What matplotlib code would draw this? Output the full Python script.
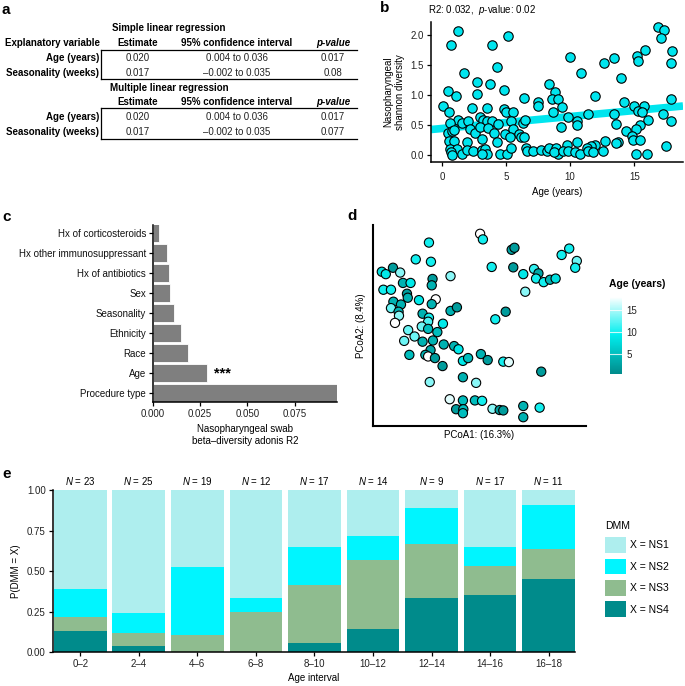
import matplotlib
matplotlib.use('Agg')
import matplotlib.pyplot as plt
import numpy as np
from matplotlib.colors import LinearSegmentedColormap, Normalize
from matplotlib.cm import ScalarMappable
from matplotlib.lines import Line2D
from matplotlib.patches import Patch

plt.rcParams['font.family'] = ['Liberation Sans', 'DejaVu Sans']
plt.rcParams['mathtext.fontset'] = 'custom'
plt.rcParams['mathtext.rm'] = 'Liberation Sans'
plt.rcParams['mathtext.it'] = 'Liberation Sans:italic'
plt.rcParams['font.size'] = 7
plt.rcParams['axes.linewidth'] = 1.1

# ---------------- data ----------------
# a: regression table
tbl_cols = ['Estimate', '95% confidence interval', 'p-value']
tbl_rows = ['Age (years)', 'Seasonality (weeks)']
simple_est = ['0.020', '0.017']
simple_ci = ['0.004 to 0.036', '\u20130.002 to 0.035']
simple_p = ['0.017', '0.08']
multi_est = ['0.020', '0.017']
multi_ci = ['0.004 to 0.036', '\u20130.002 to 0.035']
multi_p = ['0.017', '0.077']

# b: age vs shannon diversity
ages_b = [1.22, 0.73, 3.93, 5.18, 4.27, 1.72, 2.73, 3.75, 0.49, 1.09, 2.71, 4.87, 6.41, 8.36, 8.85, 8.62,
          0.05, 0.57, 2.32, 3.52, 4.84, 5.03, 5.57, 7.53, 7.53, 8.70,
          1.22, 1.59, 2.00, 0.63, 2.97, 3.23, 3.49, 3.91, 4.40, 5.39, 6.35, 6.48,
          0.49, 0.76, 0.94, 2.19, 2.58, 2.97, 3.62, 4.06, 4.90, 5.52, 6.04, 6.20,
          0.55, 0.94, 1.93, 3.10, 4.27, 5.31, 6.41,
          0.63, 1.15, 0.68, 1.54, 1.93, 2.40, 3.10, 3.36, 3.49, 3.10, 4.53, 5.05, 5.42, 6.54, 6.61,
          7.14, 7.71, 8.18, 8.36, 8.91, 9.09, 0.76,
          16.85, 17.34, 17.06, 17.92, 17.86, 15.81, 15.21, 15.26, 13.39, 12.64,
          9.97, 10.86, 13.93, 9.06, 9.35, 11.90, 14.17, 15.00, 15.78, 15.26,
          15.60, 17.89, 9.82, 11.41, 13.39, 17.27, 17.86, 10.57, 10.57, 13.54,
          16.07, 9.27, 15.42, 15.13, 14.38, 14.79, 14.90, 15.47, 13.70, 13.60,
          12.73, 11.90, 11.61, 11.30, 10.57, 9.74, 8.75, 9.48,
          9.87, 10.34, 10.73, 11.39, 11.77, 12.60, 15.10, 16.00, 17.48]
div_b = [2.07, 1.84, 1.83, 1.99, 1.47, 1.37, 1.22, 1.18, 1.07, 0.98, 1.02, 1.08, 0.95, 1.18, 1.05, 0.94,
         0.82, 0.71, 0.78, 0.79, 0.76, 0.72, 0.71, 0.89, 0.82, 0.71,
         0.59, 0.54, 0.56, 0.54, 0.63, 0.59, 0.57, 0.57, 0.52, 0.56, 0.54, 0.59,
         0.36, 0.40, 0.41, 0.43, 0.36, 0.47, 0.44, 0.36, 0.35, 0.43, 0.35, 0.30,
         0.23, 0.23, 0.21, 0.26, 0.21, 0.30, 0.30,
         0.10, 0.10, 0.04, 0.01, 0.08, 0.06, 0.08, 0.09, 0.01, 0.01, 0.01, 0.01, 0.12, 0.12, 0.06,
         0.06, 0.08, 0.06, 0.12, 0.12, 0.01, 0.00,
         2.14, 2.08, 1.96, 1.73, 1.53, 1.75, 1.66, 1.57, 1.61, 1.53,
         1.63, 1.37, 1.28, 0.93, 0.80, 0.98, 0.88, 0.82, 0.82, 0.73,
         0.72, 0.94, 0.63, 0.69, 0.68, 0.68, 0.57, 0.57, 0.50, 0.52,
         0.58, 0.46, 0.50, 0.43, 0.39, 0.32, 0.25, 0.25, 0.22, 0.19,
         0.23, 0.17, 0.14, 0.12, 0.21, 0.17, 0.04, 0.07,
         0.07, 0.04, 0.02, 0.07, 0.04, 0.06, 0.01, 0.01, 0.14]
fit_intercept = 0.44
fit_slope = 0.020

# c: adonis R2
c_factors = ['Procedure type', 'Age', 'Race', 'Ethnicity', 'Seasonality', 'Sex',
             'Hx of antibiotics', 'Hx other immunosuppressant', 'Hx of corticosteroids']
c_r2 = [0.0975, 0.0287, 0.0187, 0.0148, 0.0110, 0.0091, 0.0084, 0.0075, 0.0032]

# d: PCoA
pc1 = [0.000, 0.007, -0.128, 0.079, 0.086, -0.161, -0.123, 0.204, 0.223, 0.242, 0.238, -0.246, -0.236,
       -0.218, -0.200, 0.029, 0.083, 0.108, 0.135, 0.146, 0.140, 0.159, 0.175, 0.189, -0.074, -0.119,
       -0.121, -0.193, -0.174, -0.242, -0.223, -0.183, -0.181, -0.153, -0.111, -0.121, 0.113, -0.217,
       -0.198, -0.223, -0.204, -0.203, -0.213, -0.144, -0.128, -0.130, -0.146, -0.130, -0.093, -0.074,
       -0.058, 0.038, 0.064, -0.180, -0.164, -0.190, -0.144, -0.118, -0.107, -0.091, -0.065, -0.054,
       -0.124, -0.177, -0.137, -0.130, -0.113, -0.094, -0.043, -0.030, 0.002, 0.019, 0.058, 0.072,
       0.153, -0.126, -0.043, -0.010, -0.076, -0.043, -0.013, 0.005, -0.060, -0.042, -0.043, 0.031,
       0.049, 0.058, 0.108, 0.149, 0.108]
pc2 = [0.228, 0.214, 0.206, 0.188, 0.193, 0.164, 0.158, 0.175, 0.191, 0.160, 0.143, 0.133, 0.127,
       0.143, 0.131, 0.145, 0.144, 0.127, 0.140, 0.129, 0.116, 0.107, 0.113, 0.116, 0.122, 0.115,
       0.099, 0.105, 0.105, 0.088, 0.088, 0.078, 0.068, 0.062, 0.064, 0.052, 0.083, 0.058,
       0.051, 0.042, 0.033, 0.023, 0.005, 0.028, 0.018, 0.008, -0.004, -0.010, 0.003, 0.035,
       0.044, 0.014, 0.033, -0.013, -0.029, -0.040, -0.042, -0.039, -0.018, -0.049, -0.053, -0.061,
       -0.063, -0.075, -0.075, -0.079, -0.083, -0.103, -0.090, -0.083, -0.073, -0.088, -0.092, -0.093,
       -0.117, -0.143, -0.131, -0.145, -0.186, -0.189, -0.189, -0.190, -0.211, -0.211, -0.221, -0.210,
       -0.213, -0.214, -0.203, -0.207, -0.231]
age_d = [18, 10, 10, 3, 2, 10, 10, 10, 10, 13, 10, 8, 9,
         2, 14, 10, 2, 9, 11, 3, 10, 10, 4, 8, 14, 2,
         4, 4, 9, 10, 10, 2, 4, 9, 18, 4, 14, 4,
         4, 13, 4, 14, 18, 4, 10, 12, 13, 5, 9, 4,
         2, 10, 2, 13, 13, 13, 4, 4, 5, 4, 4, 9,
         3, 5, 4, 18, 2, 2, 9, 5, 4, 2, 10, 17,
         2, 14, 4, 14, 17, 5, 5, 10, 2, 5, 5, 14,
         2, 2, 4, 10, 4]

# e: DMM counts by age interval
age_bins = ['0\u20132', '2\u20134', '4\u20136', '6\u20138', '8\u201310', '10\u201312', '12\u201314', '14\u201316', '16\u201318']
ns1 = np.array([14, 19, 9, 8, 6, 4, 1, 6, 1])
ns2 = np.array([4, 3, 8, 1, 4, 2, 2, 2, 3])
ns3 = np.array([2, 2, 2, 3, 6, 6, 3, 3, 2])
ns4 = np.array([3, 1, 0, 0, 1, 2, 3, 6, 5])
dmm_colors = {'NS1': '#AEEEEE', 'NS2': '#00F5FF', 'NS3': '#8FBC8F', 'NS4': '#008B8B'}

# ---------------- figure ----------------
W, H = 685, 686
fig = plt.figure(figsize=(W / 100, H / 100), dpi=100)
tick_col = '#222222'


def fx(x):
    return x / W


def fy(y):
    return 1 - y / H


def add_ax(l, t, r, b):
    return fig.add_axes([l / W, 1 - b / H, (r - l) / W, (b - t) / H])


def classic(ax):
    ax.spines['top'].set_visible(False)
    ax.spines['right'].set_visible(False)
    ax.tick_params(labelsize=7, labelcolor=tick_col, length=3, width=0.9, pad=2)


for lab, x, y in [('a', 2, 10), ('b', 380, 8), ('c', 2, 217), ('d', 347, 216), ('e', 2, 474)]:
    fig.text(fx(x), fy(y), lab, fontsize=11, fontweight='bold', ha='left', va='center')

# ---- a: table ----
col_x = [138, 237, 333]
blocks = [('Simple linear regression', 28, 43, 50, 79, [58, 72.5], simple_est, simple_ci, simple_p, True),
          ('Multiple linear regression', 88, 102, 108, 139, [117.5, 132], multi_est, multi_ci, multi_p, False)]
for title, ty, hy, top, bot, rys, est, ci, pv, expl in blocks:
    fig.text(fx(169), fy(ty), title, fontweight='bold', ha='center', va='center')
    if expl:
        fig.text(fx(100), fy(hy), 'Explanatory variable', fontweight='bold', ha='right', va='center')
    for cx, name in zip(col_x, tbl_cols):
        fig.text(fx(cx), fy(hy), name, fontweight='bold', ha='center', va='center',
                 fontstyle='italic' if name == 'p-value' else 'normal')
    fig.add_artist(Line2D([fx(101), fx(357)], [fy(top), fy(top)], color='black', lw=0.9))
    fig.add_artist(Line2D([fx(101), fx(357)], [fy(bot), fy(bot)], color='black', lw=0.9))
    fig.add_artist(Line2D([fx(101), fx(101)], [fy(top), fy(bot)], color='black', lw=0.9))
    for ry, rname, e_, c_, p_ in zip(rys, tbl_rows, est, ci, pv):
        fig.text(fx(99), fy(ry), rname, fontweight='bold', ha='right', va='center')
        for cx, val in zip(col_x, [e_, c_, p_]):
            fig.text(fx(cx), fy(ry), val, ha='center', va='center', color='#222222')

# ---- b: scatter ----
ax_b = add_ax(431, 22, 683, 162)
ax_b.set_xlim(-0.85, 18.8)
ax_b.set_ylim(-0.12, 2.22)
xl = np.array(ax_b.get_xlim())
ax_b.plot(xl, fit_intercept + fit_slope * xl, color='#00E5EE', lw=5.5, solid_capstyle='butt', zorder=2)
ax_b.scatter(ages_b, div_b, s=46, c='#00E5EE', edgecolors='black', linewidths=0.8, zorder=3, clip_on=False)
classic(ax_b)
ax_b.set_xticks([0, 5, 10, 15])
ax_b.set_yticks([0, 0.5, 1.0, 1.5, 2.0], ['0.0', '0.5', '1.0', '1.5', '2.0'])
ax_b.tick_params(axis='x', pad=4)
ax_b.set_xlabel('Age (years)', fontsize=7, labelpad=4)
ax_b.set_ylabel('Nasopharyngeal\nshannon diversity', fontsize=7, labelpad=4)
fig.text(fx(428), fy(10), r'R2: 0.032,  $p$-value: 0.02', ha='left', va='center', fontsize=7)

# ---- c: bars ----
ax_c = add_ax(153, 225, 337, 402)
ypos = np.arange(len(c_factors))
ax_c.barh(ypos, c_r2, height=0.92, color='#7F7F7F', edgecolor='white', linewidth=0.6)
ax_c.set_ylim(-0.45, 8.4)
ax_c.set_xlim(0, 0.0975)
ax_c.set_yticks(ypos, c_factors)
ax_c.set_xticks([0, 0.025, 0.05, 0.075], ['0.000', '0.025', '0.050', '0.075'])
classic(ax_c)
ax_c.tick_params(axis='y', labelcolor='#111111')
ax_c.text(c_r2[1] + 0.0035, ypos[1], '***', ha='left', va='center', fontsize=10.5, fontweight='bold')
ax_c.set_xlabel('Nasopharyngeal swab\nbeta\u2013diversity adonis R2', fontsize=7, labelpad=4)

# ---- d: PCoA ----
age_cmap = LinearSegmentedColormap.from_list('age', [(0, '#008B8B'), (0.51, '#00EEEE'), (1, '#FFFFFF')])
age_norm = Normalize(0.45, 18)
ax_d = add_ax(373, 225, 586, 426)
ax_d.scatter(pc1, pc2, s=44, c=age_d, cmap=age_cmap, norm=age_norm, edgecolors='black',
             linewidths=0.8, clip_on=False, zorder=3)
ax_d.set_xlim(-0.268, 0.265)
ax_d.set_ylim(-0.253, 0.25)
ax_d.spines['top'].set_visible(False)
ax_d.spines['right'].set_visible(False)
ax_d.spines['left'].set_linewidth(1.5)
ax_d.spines['bottom'].set_linewidth(1.5)
ax_d.set_xticks([])
ax_d.set_yticks([])
ax_d.set_xlabel('PCoA1: (16.3%)', fontsize=7, labelpad=3)
ax_d.set_ylabel('PCoA2: (8.4%)', fontsize=7, labelpad=5)

cax = add_ax(610, 297, 622, 374)
cb = fig.colorbar(ScalarMappable(norm=age_norm, cmap=age_cmap), cax=cax, ticks=[5, 10, 15])
cb.outline.set_visible(False)
cax.tick_params(length=0, labelsize=7, pad=3, labelcolor=tick_col)
for t in [5, 10, 15]:
    cax.axhline(t, color='white', lw=0.8, alpha=0.8)
fig.text(fx(637), fy(284), 'Age (years)', fontsize=7.5, fontweight='bold', ha='center', va='center')

# ---- e: stacked bars ----
ax_e = add_ax(52.7, 490, 575, 652.3)
xe = np.arange(len(age_bins))
n_tot = ns1 + ns2 + ns3 + ns4
bottom = np.zeros(len(age_bins))
for name, cnt in [('NS4', ns4), ('NS3', ns3), ('NS2', ns2), ('NS1', ns1)]:
    frac = cnt / n_tot
    ax_e.bar(xe, frac, 0.9, bottom=bottom, color=dmm_colors[name], linewidth=0)
    bottom += frac
ax_e.set_xlim(-0.47, 8.45)
ax_e.set_ylim(0, 1)
ax_e.set_xticks(xe, age_bins)
ax_e.set_yticks([0, 0.25, 0.5, 0.75, 1.0], ['0.00', '0.25', '0.50', '0.75', '1.00'])
classic(ax_e)
for xi, n in zip(xe, n_tot):
    ax_e.text(xi, 1.057, r'$N$ = %d' % n, ha='center', va='center', fontsize=7, clip_on=False)
ax_e.set_xlabel('Age interval', fontsize=7, labelpad=3)
ax_e.set_ylabel('P(DMM = X)', fontsize=7, labelpad=4)
handles = [Patch(facecolor=dmm_colors[k], edgecolor='none', label='X = ' + k) for k in ['NS1', 'NS2', 'NS3', 'NS4']]
fig.legend(handles=handles, title='DMM', loc='upper left', bbox_to_anchor=(fx(598), fy(514)),
           frameon=False, fontsize=7.5, title_fontsize=7.5, handlelength=1.95, handleheight=1.95,
           labelspacing=0.55, handletextpad=0.4, borderpad=0.2, alignment='left')

fig.savefig('out.png', dpi=100)
